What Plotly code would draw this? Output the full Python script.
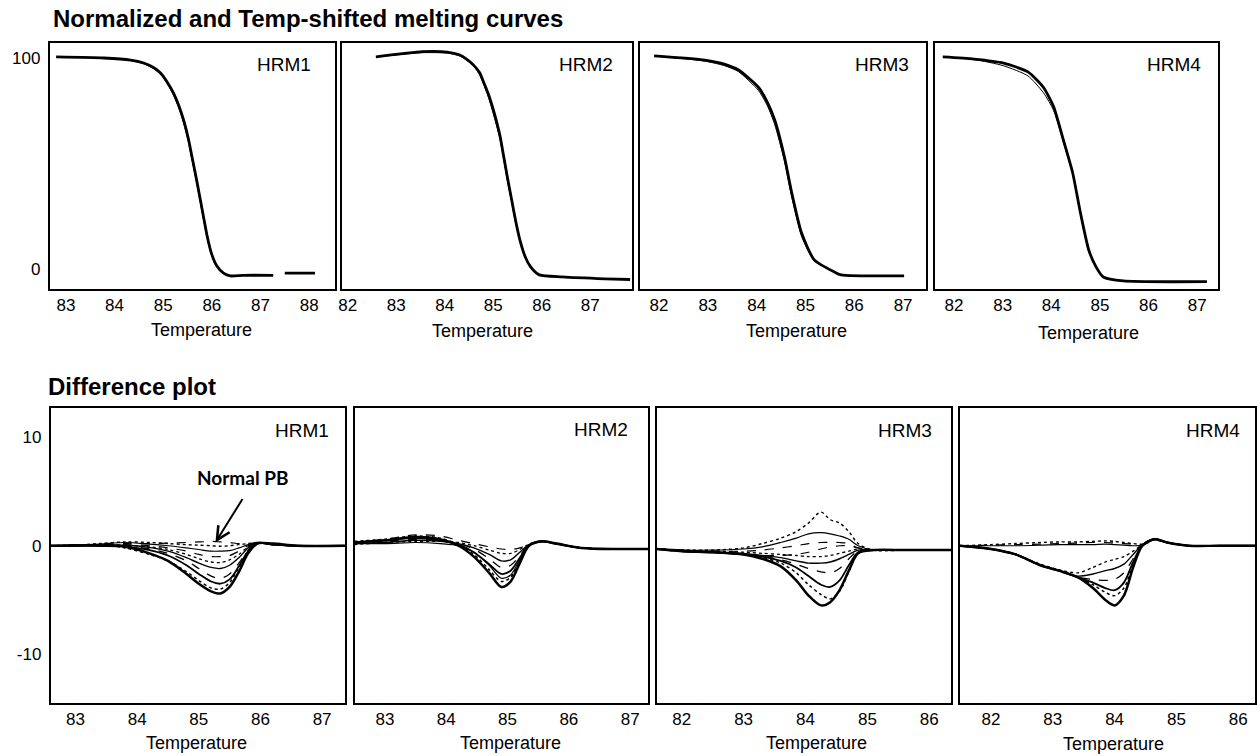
import plotly.graph_objects as go

W, H = 1260, 756
FONT = "Liberation Sans"

PANEL_NAMES = ["HRM1", "HRM2", "HRM3", "HRM4"]
TOP_TITLE = "Normalized and Temp-shifted melting curves"
BOTTOM_TITLE = "Difference plot"
X_TITLE = "Temperature"
NOTE_TEXT = "Normal PB"

# ---------------- melting curves (normalized fluorescence, %) ----------------
HRM1_TOP_T = [82.8, 83.78, 84.33, 84.6, 84.8, 84.95, 85.07, 85.21, 85.32, 85.42, 85.52, 85.58, 85.68, 85.77,
              85.83, 85.9, 85.99, 86.1, 86.24, 86.38, 86.65, 87.26, 87.4, 87.5, 88.12]
HRM1_TOP_A = [100.5, 100, 99, 97.6, 95.5, 92.8, 89, 83.5, 77.5, 70.5, 61.5, 54.5, 43, 32,
              24.5, 16, 7.5, 1.5, -2, -3.3, -3, -3, None, -2, -2]
HRM1_TOP_B = [100.5, 100, 98.8, 97.2, 95, 92.3, 88.3, 82.5, 76.3, 69, 60, 53, 41.5, 30.5,
              23, 14.8, 6.8, 1.2, -2, -3.3, -3, -3, None, -2, -2]

HRM2_TOP_T = [82.58, 83.54, 84.05, 84.3, 84.45, 84.6, 84.72, 84.81, 84.92, 85.13, 85.21, 85.29, 85.38, 85.46, 85.55,
              85.66, 85.77, 85.95, 86.42, 87.31, 87.82]
HRM2_TOP_A = [100.5, 103, 102.8, 101.5, 99.5, 96.5, 93, 88, 81.5, 64, 54, 43.6, 32.7, 23, 13.7,
              5.7, 1, -2.8, -3.8, -4.7, -5]
HRM2_TOP_B = [100.5, 102.5, 102.3, 101, 99, 96, 92, 87, 80, 62.5, 52.5, 42, 31.5, 22, 13,
              5.2, 0.8, -2.8, -3.8, -4.7, -5]

HRM3_TOP_T = [81.9, 82.94, 83.35, 83.63, 84.04, 84.22, 84.37, 84.57, 84.71, 84.92, 85.18, 85.59, 85.73, 87.02]
HRM3_TOP_A = [101, 99, 97, 94.3, 86, 79, 70.6, 53, 37, 17, 4.3, -1.4, -2.8, -3.3]
HRM3_TOP_B = [101, 98.5, 96.3, 93.5, 84.5, 77.3, 68.5, 51, 35, 15.5, 3.8, -1.4, -2.8, -3.3]

HRM4_TOP_T = [81.77, 82.41, 83.02, 83.52, 83.84, 84.05, 84.25, 84.44, 84.6, 84.77, 84.92, 85.07, 85.48, 87.2]
HRM4_TOP_A = [100.5, 99.5, 97.6, 93.4, 86, 76.8, 61, 45.5, 26.5, 9, 1, -3.8, -5.7, -6]
HRM4_TOP_B = [100.5, 99.3, 96.3, 91.5, 83.5, 75, 60, 45, 26, 8.5, 0.8, -3.8, -5.7, -6]

# ---------------- difference plot curves ----------------
HRM1_DIFF_T = [82.6, 83.0, 83.4, 83.8, 84.2, 84.5, 84.8, 85.0, 85.2, 85.35, 85.5, 85.65, 85.8, 85.95, 86.2, 86.6, 87.37]
HRM1_DIFF = [
    [0.0, 0.05, 0.0, -0.1, -0.7, -1.4, -2.6, -3.5, -4.2, -4.4, -3.8, -2.4, -0.7, 0.2, 0.2, 0.0, 0.0],
    [0.0, 0.05, 0.1, -0.2, -0.8, -1.4, -2.4, -3.2, -3.9, -4.0, -3.4, -2.0, -0.5, 0.25, 0.15, 0.0, 0.0],
    [0.0, 0.0, 0.05, -0.05, -0.4, -0.9, -1.8, -2.6, -3.3, -3.5, -3.1, -1.9, -0.5, 0.25, 0.1, 0.0, 0.0],
    [0.0, 0.0, 0.05, 0.0, -0.3, -0.7, -1.4, -2.1, -2.8, -3.0, -2.6, -1.6, -0.4, 0.3, 0.1, 0.0, 0.0],
    [0.0, 0.0, 0.05, 0.05, -0.15, -0.5, -1.1, -1.6, -2.0, -2.1, -1.8, -1.1, -0.2, 0.3, 0.1, 0.0, 0.0],
    [0.0, 0.0, 0.1, 0.05, -0.1, -0.35, -0.8, -1.2, -1.5, -1.55, -1.3, -0.8, -0.1, 0.3, 0.1, 0.0, 0.0],
    [0.0, 0.0, 0.1, 0.1, 0.0, -0.2, -0.5, -0.8, -1.0, -1.0, -0.9, -0.5, 0.0, 0.25, 0.1, 0.0, 0.0],
    [0.0, 0.05, 0.15, 0.3, 0.15, 0.0, -0.2, -0.35, -0.5, -0.5, -0.45, -0.2, 0.1, 0.3, 0.1, 0.0, 0.0],
    [0.0, 0.05, 0.2, 0.35, 0.3, 0.2, 0.1, 0.05, 0.0, -0.05, 0.0, 0.1, 0.2, 0.3, 0.1, 0.0, 0.0],
    [0.0, 0.05, 0.1, 0.2, 0.2, 0.25, 0.3, 0.35, 0.4, 0.35, 0.3, 0.2, 0.2, 0.25, 0.1, 0.0, 0.0],
]

HRM2_DIFF_T = [82.5, 83.0, 83.5, 83.9, 84.2, 84.45, 84.7, 84.9, 85.05, 85.2, 85.35, 85.55, 85.8, 86.2, 86.8, 87.29]
HRM2_DIFF = [
    [0.3, 0.5, 0.8, 0.6, 0.0, -1.0, -2.5, -3.8, -3.3, -1.6, 0.0, 0.4, 0.2, -0.2, -0.3, -0.3],
    [0.4, 0.6, 0.9, 0.7, 0.1, -0.8, -2.2, -3.3, -2.9, -1.4, 0.05, 0.4, 0.2, -0.2, -0.3, -0.3],
    [0.3, 0.5, 0.7, 0.5, 0.1, -0.6, -1.7, -2.6, -2.3, -1.1, 0.05, 0.4, 0.15, -0.2, -0.3, -0.3],
    [0.2, 0.4, 0.6, 0.5, 0.2, -0.3, -1.2, -2.0, -1.8, -0.9, 0.1, 0.4, 0.2, -0.2, -0.3, -0.3],
    [0.2, 0.3, 0.5, 0.4, 0.2, -0.2, -0.8, -1.4, -1.3, -0.6, 0.1, 0.45, 0.2, -0.2, -0.3, -0.3],
    [0.1, 0.3, 0.4, 0.4, 0.3, 0.0, -0.4, -0.7, -0.7, -0.35, 0.15, 0.45, 0.2, -0.2, -0.3, -0.3],
    [0.3, 0.6, 1.0, 0.9, 0.5, 0.2, -0.1, -0.3, -0.35, -0.2, 0.15, 0.4, 0.2, -0.2, -0.3, -0.3],
    [0.2, 0.2, 0.3, 0.2, 0.0, -0.6, -1.8, -3.0, -2.7, -1.3, 0.0, 0.35, 0.2, -0.2, -0.3, -0.3],
]

HRM3_DIFF_T = [81.6, 82.0, 82.5, 83.0, 83.3, 83.6, 83.85, 84.05, 84.25, 84.4, 84.55, 84.7, 84.85, 85.1, 85.6, 86.35]
HRM3_DIFF = [
    [-0.3, -0.5, -0.6, -0.8, -1.2, -1.9, -3.2, -4.6, -5.5, -5.2, -4.1, -2.3, -0.7, -0.4, -0.4, -0.4],
    [-0.3, -0.5, -0.6, -0.8, -1.1, -1.6, -2.5, -3.6, -4.5, -4.9, -4.2, -2.4, -0.7, -0.4, -0.4, -0.4],
    [-0.3, -0.5, -0.6, -0.8, -1.0, -1.4, -2.0, -2.8, -3.6, -3.8, -3.2, -1.8, -0.6, -0.4, -0.4, -0.4],
    [-0.3, -0.5, -0.6, -0.8, -1.0, -1.3, -1.7, -2.1, -2.4, -2.5, -2.1, -1.2, -0.5, -0.4, -0.4, -0.4],
    [-0.3, -0.4, -0.6, -0.7, -0.9, -1.1, -1.4, -1.6, -1.6, -1.5, -1.2, -0.8, -0.4, -0.4, -0.4, -0.4],
    [-0.3, -0.4, -0.5, -0.6, -0.7, -0.8, -0.9, -1.0, -1.0, -0.9, -0.7, -0.5, -0.3, -0.4, -0.4, -0.4],
    [-0.3, -0.4, -0.5, -0.5, -0.4, -0.2, 0.0, 0.2, 0.3, 0.3, 0.3, 0.2, -0.2, -0.4, -0.4, -0.4],
    [-0.3, -0.4, -0.4, -0.3, -0.1, 0.3, 0.7, 1.1, 1.2, 1.1, 0.9, 0.6, 0.0, -0.4, -0.4, -0.4],
    [-0.3, -0.4, -0.4, -0.2, 0.2, 0.7, 1.3, 2.1, 3.1, 2.4, 2.1, 1.3, 0.2, -0.4, -0.4, -0.4],
    [-0.3, -0.4, -0.6, -0.8, -0.9, -0.9, -0.8, -0.6, -0.3, -0.1, 0.0, 0.0, -0.2, -0.4, -0.4, -0.4],
]

HRM4_DIFF_T = [81.5, 82.0, 82.4, 82.8, 83.1, 83.4, 83.65, 83.85, 84.0, 84.15, 84.3, 84.45, 84.65, 84.85, 85.2, 85.7, 86.27]
HRM4_DIFF = [
    [0, -0.3, -0.8, -1.8, -2.3, -2.9, -3.9, -5.0, -5.5, -4.6, -2.0, 0.0, 0.6, 0.3, 0, 0, 0],
    [0, -0.3, -0.8, -1.8, -2.3, -2.9, -3.6, -4.3, -4.6, -3.9, -1.7, 0.05, 0.65, 0.3, 0, 0, 0],
    [0, -0.3, -0.8, -1.8, -2.3, -2.9, -3.4, -3.9, -4.1, -3.4, -1.5, 0.05, 0.6, 0.3, 0, 0, 0],
    [0, -0.3, -0.8, -1.8, -2.3, -2.9, -3.1, -3.2, -3.1, -2.5, -1.2, 0.05, 0.6, 0.3, 0, 0, 0],
    [0, -0.3, -0.8, -1.8, -2.3, -2.8, -2.6, -2.3, -2.1, -1.7, -0.8, 0.1, 0.6, 0.3, 0, 0, 0],
    [0, -0.3, -0.8, -1.7, -2.2, -2.5, -2.0, -1.5, -1.25, -1.0, -0.5, 0.1, 0.6, 0.3, 0, 0, 0],
    [0, 0.05, 0.1, 0.15, 0.2, 0.25, 0.3, 0.3, 0.25, 0.2, 0.15, 0.1, 0.5, 0.3, 0, 0, 0],
    [0, 0, 0, 0.05, 0.1, 0.1, 0.1, 0.15, 0.1, 0.05, 0, 0.05, 0.55, 0.25, 0, 0, 0],
    [0, 0.1, 0.2, 0.3, 0.35, 0.35, 0.4, 0.45, 0.4, 0.3, 0.2, 0.15, 0.6, 0.3, 0, 0, 0],
]

TOP_XTICKS = [[83, 84, 85, 86, 87, 88], [82, 83, 84, 85, 86, 87], [82, 83, 84, 85, 86, 87], [82, 83, 84, 85, 86, 87]]
BOT_XTICKS = [[83, 84, 85, 86, 87], [83, 84, 85, 86, 87], [82, 83, 84, 85, 86], [82, 83, 84, 85, 86]]
TOP_YTICKS = [0, 100]
BOT_YTICKS = [-10, 0, 10]
BOT_YTICK_TEXT = ["-10", "0", "10"]
NOTE_POINT = (85.27, 0.3)  # where the "Normal PB" arrow points (panel HRM1, difference plot)

# ---------------- layout geometry (pixels) ----------------
TOP_X = [(46, 332), (339, 630), (638, 925), (934, 1218)]
TOP_Y = (43, 289)
BOT_X = [(47, 342), (352, 646), (655, 950), (959, 1255)]
BOT_Y = (408, 703)
TOP_XRANGE = [[82.67, 88.53], [81.88, 87.86], [81.61, 87.47], [81.61, 87.43]]
BOT_XRANGE = [[82.6, 87.37], [82.51, 87.29], [81.6, 86.35], [81.5, 86.27]]
TOP_YRANGE = [-9.5, 107.1]
BOT_YRANGE = [-14.5, 12.7]


def fx(p):
    return p / W


def fy(p):
    return 1 - p / H


fig = go.Figure()

top_data = [
    (HRM1_TOP_T, [HRM1_TOP_A, HRM1_TOP_B]),
    (HRM2_TOP_T, [HRM2_TOP_A, HRM2_TOP_B]),
    (HRM3_TOP_T, [HRM3_TOP_A, HRM3_TOP_B]),
    (HRM4_TOP_T, [HRM4_TOP_A, HRM4_TOP_B]),
]
bot_data = [
    (HRM1_DIFF_T, HRM1_DIFF),
    (HRM2_DIFF_T, HRM2_DIFF),
    (HRM3_DIFF_T, HRM3_DIFF),
    (HRM4_DIFF_T, HRM4_DIFF),
]

DIFF_STYLES = [("solid", 2.5), ("dot", 1.5), ("solid", 1.8), ("dash", 1.3), ("solid", 1.4),
               ("dot", 1.3), ("dash", 1.2), ("solid", 1.2), ("dot", 1.4), ("dash", 1.2)]


def axname(n, kind):
    return kind if n == 1 else f"{kind}{n}"


axis_common = dict(
    showline=True, mirror=True, linecolor="black", linewidth=2,
    showgrid=False, zeroline=False, ticks="",
    tickfont=dict(family=FONT, size=17, color="black"),
    fixedrange=True,
)

layout_axes = {}
for i in range(4):
    n = i + 1
    T, curves = top_data[i]
    for j, vals in enumerate(curves):
        fig.add_trace(go.Scatter(
            x=T, y=vals, mode="lines",
            line=dict(color="black", width=2.8 if j == 0 else 1.0, shape="spline", smoothing=0.6),
            xaxis=axname(n, "x"), yaxis=axname(n, "y"),
            showlegend=False, hoverinfo="skip", connectgaps=False,
        ))
    layout_axes[axname(n, "xaxis")] = dict(
        axis_common, domain=[fx(TOP_X[i][0]), fx(TOP_X[i][1])], range=TOP_XRANGE[i],
        tickvals=TOP_XTICKS[i], anchor=axname(n, "y"), ticklabelstandoff=0)
    layout_axes[axname(n, "yaxis")] = dict(
        axis_common, domain=[fy(TOP_Y[1]), fy(TOP_Y[0])], range=TOP_YRANGE,
        tickvals=TOP_YTICKS, showticklabels=(i == 0), anchor=axname(n, "x"), ticklabelstandoff=4)

for i in range(4):
    n = i + 5
    T, curves = bot_data[i]
    for j, vals in enumerate(curves):
        dash, width = DIFF_STYLES[j % len(DIFF_STYLES)]
        fig.add_trace(go.Scatter(
            x=T, y=vals, mode="lines",
            line=dict(color="black", width=width, dash=dash, shape="spline", smoothing=0.9),
            xaxis=axname(n, "x"), yaxis=axname(n, "y"),
            showlegend=False, hoverinfo="skip",
        ))
    layout_axes[axname(n, "xaxis")] = dict(
        axis_common, domain=[fx(BOT_X[i][0]), fx(BOT_X[i][1])], range=BOT_XRANGE[i],
        tickvals=BOT_XTICKS[i], anchor=axname(n, "y"), ticklabelstandoff=0)
    layout_axes[axname(n, "yaxis")] = dict(
        axis_common, domain=[fy(BOT_Y[1]), fy(BOT_Y[0])], range=BOT_YRANGE,
        tickvals=BOT_YTICKS, ticktext=BOT_YTICK_TEXT, showticklabels=(i == 0),
        anchor=axname(n, "x"), ticklabelstandoff=4)

annotations = []


def paper_text(text, x, y, size, xanchor="left", bold=False, family=FONT):
    annotations.append(dict(
        text=f"<b>{text}</b>" if bold else text, x=fx(x), y=fy(y), xref="paper", yref="paper",
        xanchor=xanchor, yanchor="middle", showarrow=False,
        font=dict(family=family, size=size, color="black")))


paper_text(TOP_TITLE, 47, 19, 24, bold=True)
paper_text(BOTTOM_TITLE, 42, 387, 24, bold=True)

TOP_LABEL_POS = [(310, 64), (613, 64), (910, 64), (1203, 65)]
BOT_LABEL_POS = [(328, 430), (628, 429), (933, 430), (1242, 430)]
for i, name in enumerate(PANEL_NAMES):
    paper_text(name, TOP_LABEL_POS[i][0], TOP_LABEL_POS[i][1], 19, xanchor="right")
    paper_text(name, BOT_LABEL_POS[i][0], BOT_LABEL_POS[i][1], 19, xanchor="right")

TOP_XT_POS = [(198, 330), (480, 331), (795, 331), (1088, 333)]
BOT_XT_POS = [(193, 743), (508, 743), (815, 743), (1113, 744)]
for i in range(4):
    paper_text(X_TITLE, TOP_XT_POS[i][0], TOP_XT_POS[i][1], 18, xanchor="center")
    paper_text(X_TITLE, BOT_XT_POS[i][0], BOT_XT_POS[i][1], 18, xanchor="center")

# arrow (no text) + separate bold label
annotations.append(dict(
    text="", x=NOTE_POINT[0], y=NOTE_POINT[1], xref="x5", yref="y5",
    showarrow=True, ax=28, ay=-45, arrowhead=5, arrowsize=1.3, arrowwidth=2, arrowcolor="black",
    standoff=0,
))
paper_text("<b>" + NOTE_TEXT + "</b>", 240, 477, 19, xanchor="center", family="Lato")

fig.update_layout(
    width=W, height=H, margin=dict(l=0, r=0, t=0, b=0),
    paper_bgcolor="white", plot_bgcolor="white",
    annotations=annotations, **layout_axes,
)

fig.write_html("out.html")
